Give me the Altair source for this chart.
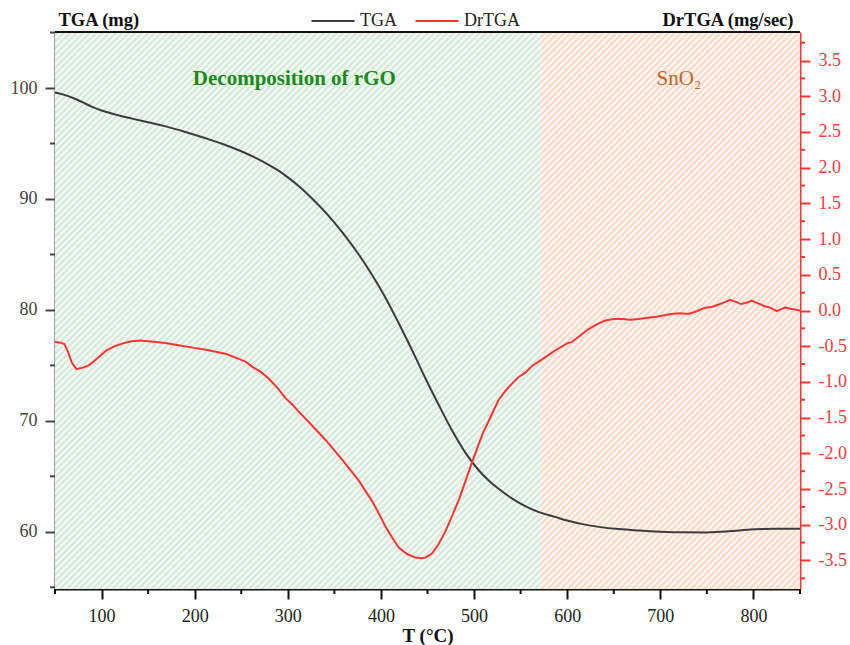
import altair as alt
import numpy as np
import pandas as pd

# ---- plot geometry (pixels) ----
W, H = 745, 557
FONT = "Liberation Serif"

# ---- TGA curve: temperature (°C) vs mass (mg) ----
tga_temp = [50, 60, 70, 80, 90, 100, 110, 120, 135, 150, 170, 190, 210, 230, 250,
            265, 280, 290, 300, 312, 326, 341, 359, 376, 391, 405, 419, 437, 448,
            462, 476, 491, 505, 516, 526, 541, 555, 569, 587, 600, 615, 634, 655,
            677, 700, 725, 748, 765, 785, 802, 825, 850]
tga_mass = [99.60, 99.38, 99.08, 98.70, 98.30, 97.98, 97.72, 97.50, 97.20, 96.92,
            96.52, 96.04, 95.52, 94.96, 94.30, 93.72, 93.05, 92.55, 91.95, 91.15,
            90.05, 88.75, 86.95, 85.02, 83.08, 81.08, 78.82, 75.75, 73.80, 71.45,
            69.20, 67.10, 65.55, 64.60, 63.90, 63.00, 62.32, 61.80, 61.35, 61.02,
            60.72, 60.45, 60.25, 60.12, 60.02, 59.96, 59.95, 60.00, 60.13, 60.23,
            60.27, 60.28]

# ---- derivative curve: temperature (°C) vs rate (mg/sec) ----
dtg_temp = [50, 56, 60, 64, 68, 73, 80, 86, 91, 98, 105, 114, 123, 132, 141, 150,
            159, 170, 184, 198, 212, 224, 234, 248, 255, 262, 271, 280, 290, 297,
            305, 312, 326, 341, 359, 376, 391, 398, 405, 412, 419, 428, 437, 443,
            448, 455, 462, 469, 476, 484, 491, 498, 505, 510, 516, 526, 534, 541,
            548, 555, 562, 569, 577, 587, 600, 605, 614, 623, 632, 641, 650, 659,
            668, 677, 686, 694, 703, 712, 721, 730, 739, 748, 755, 762, 770, 775,
            781, 787, 793, 798, 805, 812, 818, 825, 830, 834, 841, 850]
dtg_rate = [-0.44, -0.45, -0.47, -0.58, -0.73, -0.82, -0.80, -0.77, -0.72, -0.64,
            -0.56, -0.50, -0.46, -0.43, -0.42, -0.43, -0.44, -0.46, -0.49, -0.52,
            -0.55, -0.58, -0.61, -0.68, -0.72, -0.79, -0.86, -0.96, -1.10, -1.22,
            -1.32, -1.42, -1.61, -1.82, -2.10, -2.38, -2.68, -2.85, -3.03, -3.18,
            -3.32, -3.41, -3.46, -3.47, -3.46, -3.40, -3.27, -3.10, -2.89, -2.64,
            -2.38, -2.12, -1.87, -1.70, -1.54, -1.26, -1.12, -1.02, -0.93, -0.87,
            -0.78, -0.72, -0.65, -0.56, -0.46, -0.44, -0.35, -0.26, -0.19, -0.14,
            -0.12, -0.12, -0.13, -0.12, -0.10, -0.09, -0.07, -0.05, -0.04, -0.05,
            -0.01, 0.04, 0.05, 0.08, 0.12, 0.15, 0.12, 0.09, 0.11, 0.14, 0.10,
            0.06, 0.04, -0.01, 0.02, 0.04, 0.02, 0.00]

# ---- shaded temperature regions ----
region_start = [50, 572]
region_end = [572, 850]
region_fill = ["#d7ebdb", "#f8dccb"]
region_label = ["Decomposition of rGO", "SnO\u2082"]
region_label_x = [307, 720]
region_label_color = ["#1b8a1b", "#c0692c"]
region_label_weight = ["bold", "normal"]

# ---- axis ticks ----
x_major = [100, 200, 300, 400, 500, 600, 700, 800]
x_minor = [50, 150, 250, 350, 450, 550, 650, 750, 850]
left_major = [60, 70, 80, 90, 100]
left_minor = [55, 65, 75, 85, 95, 105]
right_major = [-3.5, -3.0, -2.5, -2.0, -1.5, -1.0, -0.5, 0.0, 0.5, 1.0, 1.5, 2.0,
               2.5, 3.0, 3.5]
right_minor = [-3.75, -3.25, -2.75, -2.25, -1.75, -1.25, -0.75, -0.25, 0.25, 0.75,
               1.25, 1.75, 2.25, 2.75, 3.25, 3.75]

X_DOMAIN = [50, 850]
L_DOMAIN = [54.85, 105.05]
R_DOMAIN = [-3.9, 3.9]

RED = "#ff3535"
DARK = "#3c3c3c"
LABEL_SIZE = 18
TITLE_SIZE = 18.5

xscale = alt.Scale(domain=X_DOMAIN, nice=False, zero=False)
xaxis = alt.Axis(values=x_major, tickSize=10, tickWidth=2, tickColor="#111",
                 domainColor="#111", domainWidth=2, labelFont=FONT,
                 labelFontSize=LABEL_SIZE, labelColor="#222", labelPadding=8,
                 grid=False, titleFont=FONT, titleFontSize=19,
                 titleFontWeight="bold", titleColor="#111", titlePadding=1)
XT = "T (°C)"


def xenc(field):
    return alt.X(f"{field}:Q", scale=xscale, axis=xaxis, title=XT)


df_tga = pd.DataFrame({"T": tga_temp, "v": tga_mass, "series": "TGA"})
df_dtg = pd.DataFrame({"T": dtg_temp, "v": dtg_rate, "series": "DrTGA"})
df_reg = pd.DataFrame({"start": region_start, "end": region_end, "fill": region_fill,
                       "label": region_label, "lx": region_label_x,
                       "lc": region_label_color, "lw": region_label_weight})

# background bands
bands = alt.Chart(df_reg).mark_rect().encode(
    x=xenc("start"), x2=alt.X2("end", title=XT),
    y=alt.value(0), y2=alt.value(H),
    fill=alt.Fill("fill:N", scale=None),
)

# diagonal hatching drawn over the bands (pixel space)
offs = np.arange(-H, W + 10, 6.5)
df_hatch = pd.DataFrame({"x0": offs, "x1": offs + H, "y0": H, "y1": 0})
hatch = alt.Chart(df_hatch).mark_rule(clip=True, color="white", strokeWidth=2.2,
                                      opacity=0.75).encode(
    x=alt.X("x0:Q", scale=None, axis=None), x2="x1:Q",
    y=alt.Y("y0:Q", scale=None, axis=None), y2="y1:Q",
)

color_scale = alt.Scale(domain=["TGA", "DrTGA"], range=[DARK, RED])
legend = alt.Legend(orient="none", legendX=255, legendY=-34, direction="horizontal",
                    title=None, symbolType="stroke", symbolSize=1850,
                    symbolStrokeWidth=2, labelFont=FONT, labelFontSize=LABEL_SIZE,
                    labelColor="#222", columnPadding=14, labelOffset=4)

tga_line = alt.Chart(df_tga).mark_line(strokeWidth=2, interpolate="monotone").encode(
    x=xenc("T"),
    y=alt.Y("v:Q", scale=alt.Scale(domain=L_DOMAIN, nice=False, zero=False),
            axis=alt.Axis(orient="left", values=left_major, tickSize=10, tickWidth=2,
                          tickColor="#444", domainColor="#444", domainWidth=2,
                          labelFont=FONT, labelFontSize=LABEL_SIZE,
                          labelColor="#444", labelPadding=8, grid=False,
                          title="TGA (mg)", titleAngle=0, titleX=3, titleY=-7,
                          titleAlign="left", titleBaseline="alphabetic",
                          titleFont=FONT, titleFontSize=TITLE_SIZE,
                          titleFontWeight="bold", titleColor="#111")),
    color=alt.Color("series:N", scale=color_scale, legend=legend),
)

dtg_line = alt.Chart(df_dtg).mark_line(strokeWidth=2).encode(
    x=xenc("T"),
    y=alt.Y("v:Q", scale=alt.Scale(domain=R_DOMAIN, nice=False, zero=False),
            axis=alt.Axis(orient="right", values=right_major, tickSize=10,
                          tickWidth=2, tickColor=RED, domainColor=RED,
                          domainWidth=2, labelFont=FONT, labelFontSize=LABEL_SIZE,
                          labelColor="#ee4040", labelPadding=8, grid=False,
                          labelExpr="replace(format(datum.value, '.1f'), '\u2212', '-')",
                          title="DrTGA (mg/sec)", titleAngle=0, titleX=-7,
                          titleY=-7, titleAlign="right", titleBaseline="alphabetic",
                          titleFont=FONT, titleFontSize=TITLE_SIZE,
                          titleFontWeight="bold", titleColor="#111")),
    color=alt.Color("series:N", scale=color_scale, legend=legend),
)


# region labels
def region_text(weight):
    return alt.Chart(df_reg).transform_filter(
        alt.datum.lw == weight
    ).mark_text(font=FONT, fontSize=21, baseline="alphabetic", align="center",
                fontWeight=weight).encode(
        x=xenc("lx"),
        y=alt.value(53),
        text="label:N",
        color=alt.Color("lc:N", scale=None),
    )


labels_bold = region_text("bold")
labels_plain = region_text("normal")

# minor ticks
bx_minor = alt.Chart(pd.DataFrame({"t": x_minor})).mark_rule(
    color="#111", strokeWidth=2).encode(
    x=xenc("t"), y=alt.value(H), y2=alt.value(H + 5))

l_minor = alt.Chart(pd.DataFrame({"v": left_minor})).mark_rule(
    color="#444", strokeWidth=2).encode(
    y=alt.Y("v:Q", scale=alt.Scale(domain=L_DOMAIN, nice=False, zero=False),
            axis=None),
    x=alt.value(-5), x2=alt.value(0))

r_minor = alt.Chart(pd.DataFrame({"v": right_minor})).mark_rule(
    color=RED, strokeWidth=2).encode(
    y=alt.Y("v:Q", scale=alt.Scale(domain=R_DOMAIN, nice=False, zero=False),
            axis=None),
    x=alt.value(W), x2=alt.value(W + 5))

top_border = alt.Chart(pd.DataFrame({"a": [0]})).mark_rule(
    color="#111", strokeWidth=2).encode(
    x=alt.value(0), x2=alt.value(W), y=alt.value(0))

chart = alt.layer(
    bands, hatch, tga_line, dtg_line, labels_bold, labels_plain, bx_minor, l_minor,
    r_minor, top_border
).resolve_scale(y="independent").properties(
    width=W, height=H,
    autosize=alt.AutoSizeParams(type="none"),
    padding={"left": 55, "top": 32, "right": 50, "bottom": 56},
).configure_view(stroke=None).configure(background="white")

chart.save("out.html", embed_options={"renderer": "svg", "actions": False})
